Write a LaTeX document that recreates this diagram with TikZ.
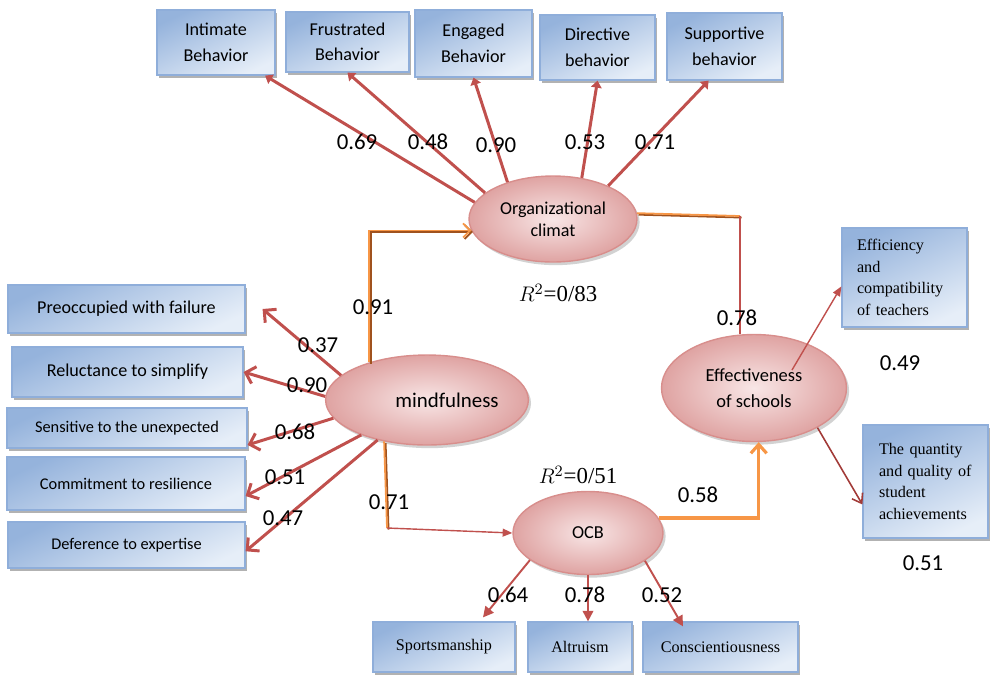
\documentclass[tikz,border=0pt]{standalone}
\usepackage{fontspec}
\setmainfont{Carlito}
\newfontfamily\timesf{Liberation Serif}
\usetikzlibrary{positioning,arrows.meta,shapes.geometric,shadows}
\definecolor{cred}{HTML}{C0504D}
\definecolor{cdred}{HTML}{A23B38}
\definecolor{corange}{HTML}{F79646}
\definecolor{cbrown}{HTML}{A0521E}
\definecolor{bxtop}{HTML}{95B3DC}
\definecolor{bxbot}{HTML}{E6EEF8}
\definecolor{bxline}{HTML}{8FAEDA}
\definecolor{elin}{HTML}{F8E6E6}
\definecolor{elout}{HTML}{DFA3A2}
\definecolor{elline}{HTML}{D88E8C}

\begin{document}
\begin{tikzpicture}[x=0.02cm, y=-0.02cm,
  box/.style={draw=bxline, line width=0.7pt, top color=bxtop, bottom color=bxbot, shading angle=25,
    drop shadow={shadow xshift=1.3pt, shadow yshift=-1.6pt, fill=black!55, opacity=.55},
    align=center, inner sep=1pt, font=\fontsize{10.3}{14.5}\selectfont},
  sbox/.style={box, font=\fontsize{9.3}{11}\selectfont},
  tbox/.style={box, font=\timesf\fontsize{9.2}{12.3}\selectfont},
  lat/.style={ellipse, draw=elline, line width=0.8pt, inner sep=0pt, inner color=elin, outer color=elout,
    drop shadow={shadow xshift=1.5pt, shadow yshift=-1.8pt, fill=black!35, opacity=.5}, align=center},
  num/.style={font=\fontsize{13}{15}\selectfont, inner sep=0pt},
  ar/.style={draw=cred, line width=1.7pt, -{Triangle[length=4pt,width=6pt]}},
  lf/.style={draw=cred, line width=1.7pt, -{Straight Barb[length=5pt,width=10pt]}},
  dn/.style={draw=cred, line width=1.1pt, -{Triangle[length=6pt,width=6pt]}},
  rl/.style={draw=cred, line width=0.8pt},
  rla/.style={rl, -{Triangle[length=5.5pt,width=4.5pt]}},
  rlb/.style={draw=cdred, line width=0.9pt, -{Straight Barb[length=5pt,width=7pt]}},
  og/.style={draw=corange, line width=1.8pt, -{Straight Barb[length=5pt,width=9pt]}},
  dbl/.style={draw=corange, line width=1pt, preaction={draw=cbrown, line width=1pt, transform canvas={xshift=0.9pt, yshift=-0.9pt}}}]
  \useasboundingbox (0,0) rectangle (991,674);
  % top row: dimensions of the climate
  \node[box, minimum width=2.36cm, minimum height=1.3cm]  (intim) at (216,42.5)   {Intimate\\Behavior};
  \node[box, minimum width=2.46cm, minimum height=1.2cm]  (frus)  at (347.5,42)   {Frustrated\\Behavior};
  \node[box, minimum width=2.34cm, minimum height=1.34cm] (engd)  at (473.5,43.5) {Engaged\\Behavior};
  \node[box, minimum width=2.3cm, minimum height=1.3cm]   (dirc)  at (597.5,47.5) {Directive\\behavior};
  \node[box, minimum width=2.3cm, minimum height=1.34cm]  (supp)  at (724.5,46.5) {Supportive\\behavior};
  % left column: mindfulness items
  \node[box, minimum width=4.74cm, minimum height=0.96cm]  (pre)  at (126.5,309) {Preoccupied with failure};
  \node[box, minimum width=4.62cm, minimum height=1.0cm]   (rel)  at (127.5,372) {Reluctance to simplify};
  \node[sbox, minimum width=4.8cm, minimum height=0.8cm]   (sens) at (127,428)   {Sensitive to the unexpected};
  \node[sbox, minimum width=4.76cm, minimum height=1.06cm] (comm) at (126,483.5) {Commitment to resilience};
  \node[sbox, minimum width=4.74cm, minimum height=0.92cm] (defr) at (126.5,545) {Deference to expertise};
  % right column and bottom row
  \node[tbox, minimum width=2.5cm, minimum height=1.98cm, text width=1.9cm, align=left]  (effic) at (904.5,277.5) {Efficiency\\and\\compatibility\\of teachers};
  \node[tbox, minimum width=2.5cm, minimum height=2.26cm, text width=1.86cm, align=left] (quant) at (925.5,481.5) {The quantity\\and quality of\\student\\achievements};
  \node[tbox, minimum width=2.84cm, minimum height=1.0cm] (sport) at (444,647)   {Sportsmanship};
  \node[tbox, minimum width=2.08cm, minimum height=1.0cm] (altr)  at (580,647)   {Altruism};
  \node[tbox, minimum width=3.1cm, minimum height=1.0cm]  (consc) at (720.5,647) {Conscientiousness};
  % latent variables
  \node[lat, minimum width=3.36cm, minimum height=1.72cm, font=\fontsize{10.3}{12.5}\selectfont] (org) at (553,219) {Organizational\\climat};
  \node[lat, minimum width=3.16cm, minimum height=1.8cm, font=\fontsize{11.9}{14}\selectfont] (mind) at (427,400) {\hspace*{0.8cm}mindfulness};
  \node[lat, minimum width=3.0cm, minimum height=1.66cm, font=\fontsize{10.4}{12}\selectfont] (ocb) at (588,533) {OCB};
  \node[lat, minimum width=3.7cm, minimum height=2.14cm, font=\fontsize{10.5}{15}\selectfont] (eff) at (754,388) {Effectiveness\\of schools};
  \coordinate (oe) at (740,216);
  \coordinate (mo) at (387,528);
  % loadings
  \draw[ar] (org.168) -- (intim.-34); \draw[ar] (org.159) -- (frus.south); \draw[ar] (org.141) -- (engd.south);
  \draw[ar] (org.55) -- (dirc.south); \draw[ar] (org.31) -- (supp.-115);
  \draw[lf] (mind.164) -- ([xshift=0.34cm]pre.east); \draw[lf] (mind.178) -- (rel.east);
  \draw[lf] (mind.191) -- (sens.-8); \draw[lf] (mind.208) -- (comm.-6); \draw[lf] (mind.219) -- (defr.-3);
  \draw[dn] (ocb.205) -- ([xshift=0.78cm,yshift=0.08cm]sport.north);
  \draw[dn] (ocb.south) -- (ocb.south |- altr.north);
  \draw[dn] (ocb.-26) -- ([xshift=-0.75cm,yshift=-0.1cm]consc.north);
  \draw[rla] ([shift={(0.76cm,0.36cm)}]eff.center) -- (effic.188);
  \draw[rlb] (eff.-32) -- (quant.200);
  % paths
  \draw[dbl, -{Straight Barb[length=4pt,width=8pt]}] (mind.147) |- (org.188);
  \draw[dbl] (org.4) -- (oe); \draw[rl] (oe) -- (oe |- eff.north);
  \draw[dbl] (mind.224) -- (mo); \draw[rla] (mo) -- (ocb.west);
  \draw[og] (ocb.12) -| (eff.-85);
  % coefficients
  \node[num] (lint) at (357,142) {0.69}; \node[num] (lfru) at (428,142) {0.48};
  \node[num] (leng) at (496,145) {0.90}; \node[num] (ldir) at (585,142) {0.53};
  \node[num] (lsup) at (655,142) {0.71};
  \node[num] (lpre) at (318,345) {0.37}; \node[num] (lrel) at (307,385) {0.90};
  \node[num] (lsen) at (295,432) {0.68}; \node[num] (lcom) at (285,477) {0.51};
  \node[num] (ldef) at (283,518) {0.47};
  \node[num] (lmo) at (373,307) {0.91}; \node[num] (lmc) at (389,502) {0.71};
  \node[num] (loe) at (737,318) {0.78}; \node[num] (lce) at (698,495) {0.58};
  \node[num] (lef) at (900,363) {0.49}; \node[num] (lqu) at (923,563) {0.51};
  \node[num] (lsp) at (508,595) {0.64}; \node[num] (lal) at (585,595) {0.78};
  \node[num] (lco) at (662,595) {0.52};
  \node[num] (rorg) at (558,293) {$R^{2}${\timesf=0/83}};
  \node[num] (rocb) at (578,475) {$R^{2}${\timesf=0/51}};
\end{tikzpicture}
\end{document}
